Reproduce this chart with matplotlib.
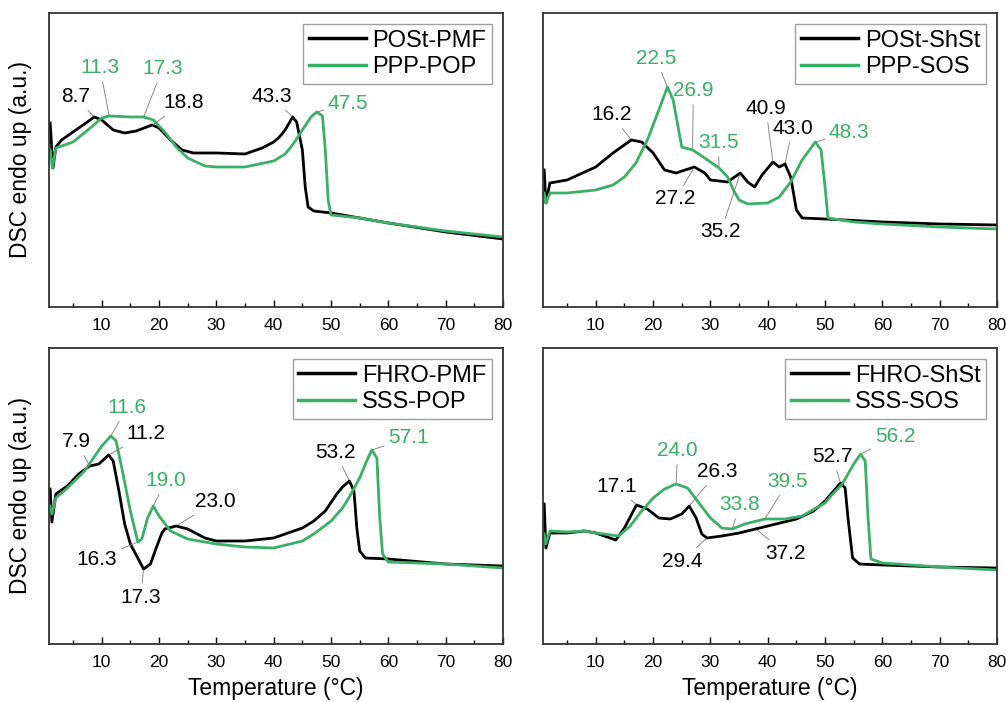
import numpy as np
import matplotlib
matplotlib.use('Agg')
import matplotlib.pyplot as plt

# DSC melting curves (temperature in C, signal in a.u.)
plt.rcParams['font.family'] = ['Liberation Sans', 'DejaVu Sans']

green = '#3aaf66'

# top left: POSt-PMF / PPP-POP
tl_black_t = [1.0, 1.5, 2, 3, 5, 7, 8.7, 10, 12, 14, 16, 18.8, 20, 22, 24, 26, 30, 35, 38, 40, 41, 42, 43.3, 44, 45, 45.5, 46, 47, 50, 60, 70, 80]
tl_black_y = [184, 139, 160, 167, 175, 183, 190, 187, 177, 174, 176, 182, 179, 167, 157, 154, 154, 153, 159, 165, 170, 177, 190, 185, 157, 120, 100, 96, 94, 84, 75, 68]
tl_green_t = [1.0, 1.4, 2, 5, 8, 10, 11.3, 15, 17.3, 19, 21, 23, 25, 28, 30, 35, 40, 42, 43, 44, 45, 46.5, 47.5, 48.5, 49, 49.5, 50, 55, 60, 70, 80]
tl_green_y = [157, 139, 159, 165, 179, 189, 191, 190, 190, 187, 175, 160, 149, 141, 140, 140, 146, 153, 160, 168, 177, 190, 195, 191, 157, 107, 92, 89, 84, 76, 70]

# top right: POSt-ShSt / PPP-SOS
tr_black_t = [1, 1.3, 2, 5, 10, 13, 16.2, 18, 20, 22, 24, 27.2, 29, 30, 33, 35.2, 36.5, 37.7, 39, 40.9, 42, 43, 44, 45, 46, 50, 60, 70, 80]
tr_black_y = [137, 104, 124, 127, 140, 154, 167, 165, 154, 137, 134, 140, 134, 127, 125, 134, 125, 120, 132, 145, 140, 143, 130, 97, 89, 88, 85, 83, 82]
tr_green_t = [1, 1.3, 2, 5, 10, 13, 15, 17, 19, 21, 22.5, 23.5, 25, 26.9, 29, 31.5, 33, 34, 35, 36.5, 40, 42, 44, 46, 48.3, 49.3, 50, 50.5, 55, 60, 70, 80]
tr_green_y = [114, 104, 114, 114, 117, 122, 130, 144, 167, 197, 220, 207, 160, 157, 149, 139, 130, 117, 107, 103, 104, 110, 125, 147, 165, 157, 120, 89, 85, 83, 80, 78]

# bottom left: FHRO-PMF / SSS-POP
bl_black_t = [1, 1.3, 2, 4, 6, 7.9, 9.5, 11.2, 12, 13, 14, 15, 17.3, 18.5, 19.5, 20.5, 21, 23, 25, 28, 30, 35, 40, 45, 47, 49, 51, 52, 53.2, 54, 54.5, 55, 56, 60, 70, 80]
bl_black_y = [155, 122, 150, 158, 170, 178, 180, 189, 183, 153, 120, 100, 75, 80, 96, 111, 115, 118, 115, 106, 103, 103, 106, 116, 123, 133, 150, 157, 163, 153, 116, 93, 86, 85, 80, 78]
bl_green_t = [1, 1.3, 2, 4, 7, 10, 11.6, 12.5, 13.5, 15, 16.3, 17, 18, 19, 20, 22, 25, 30, 35, 40, 45, 47, 50, 52, 53, 55, 56, 57.1, 58, 58.5, 59, 60, 70, 80]
bl_green_y = [138, 130, 146, 156, 173, 198, 208, 203, 176, 133, 102, 105, 126, 138, 128, 113, 105, 100, 97, 96, 103, 110, 123, 136, 145, 166, 180, 194, 186, 126, 90, 82, 80, 76]

# bottom right: FHRO-ShSt / SSS-SOS
br_black_t = [1, 1.3, 2, 5, 8, 10, 13.5, 15, 17.1, 19, 21, 23, 25, 26.3, 27.5, 28.5, 29.4, 32, 35, 40, 45, 48, 50, 52.7, 53.5, 54, 54.8, 56, 60, 70, 80]
br_black_y = [140, 96, 111, 111, 113, 111, 104, 116, 139, 135, 126, 125, 130, 138, 126, 110, 106, 108, 111, 118, 125, 133, 143, 161, 156, 126, 86, 80, 79, 77, 76]
br_green_t = [1, 1.3, 2, 5, 8, 10, 14, 16, 18, 20, 22, 24, 26, 28, 30, 32, 33.8, 36, 39.5, 43, 46, 50, 51, 53, 54, 55, 56.2, 57, 57.5, 58, 60, 70, 80]
br_green_y = [110, 100, 113, 112, 113, 111, 108, 118, 133, 146, 155, 160, 156, 141, 126, 116, 115, 120, 125, 125, 128, 141, 148, 160, 170, 180, 190, 183, 126, 85, 81, 77, 74]

# peak labels: (text, colour, peak x, peak y, text x, text y)
tl_labels = [("8.7", 'k', 8.7, 190, 5.4, 210), ("11.3", green, 11.3, 191, 9.7, 239),
             ("17.3", green, 17.3, 190, 20.6, 238), ("18.8", 'k', 18.8, 182, 24.3, 204),
             ("43.3", 'k', 43.3, 190, 39.7, 210), ("47.5", green, 47.5, 195, 53.0, 203)]
tr_labels = [("22.5", green, 22.5, 220, 20.5, 248), ("26.9", green, 26.9, 157, 27.0, 216),
             ("31.5", green, 31.5, 139, 31.4, 164), ("16.2", 'k', 16.2, 167, 12.8, 192),
             ("27.2", 'k', 27.2, 140, 23.9, 108), ("35.2", 'k', 35.2, 134, 31.8, 75),
             ("40.9", 'k', 40.9, 145, 39.7, 198), ("43.0", 'k', 43.0, 143, 44.3, 178),
             ("48.3", green, 48.3, 165, 54.2, 174)]
bl_labels = [("7.9", 'k', 7.9, 178, 5.6, 202), ("11.6", green, 11.6, 208, 14.4, 236),
             ("11.2", 'k', 11.2, 189, 17.7, 210), ("16.3", 'k', 16.3, 102, 9.2, 85),
             ("17.3", 'k', 17.3, 75, 16.8, 47), ("19.0", green, 19.0, 138, 21.2, 163),
             ("23.0", 'k', 23.0, 118, 29.8, 142), ("53.2", 'k', 53.2, 163, 50.8, 191),
             ("57.1", green, 57.1, 194, 63.5, 206)]
br_labels = [("17.1", 'k', 17.1, 139, 13.7, 157), ("24.0", green, 24.0, 160, 24.3, 193),
             ("26.3", 'k', 26.3, 138, 31.2, 172), ("29.4", 'k', 29.4, 106, 25.0, 83),
             ("33.8", green, 33.8, 115, 35.1, 139), ("39.5", green, 39.5, 125, 43.5, 162),
             ("37.2", 'k', 37.9, 115, 43.1, 91), ("52.7", 'k', 52.7, 161, 51.3, 187),
             ("56.2", green, 56.2, 190, 62.2, 207)]

panels = [
    ([0.0487, 0.5627, 0.4513, 0.4188], 294, tl_black_t, tl_black_y, tl_green_t, tl_green_y, "POSt-PMF", "PPP-POP", tl_labels),
    ([0.5398, 0.5627, 0.4513, 0.4188], 294, tr_black_t, tr_black_y, tr_green_t, tr_green_y, "POSt-ShSt", "PPP-SOS", tr_labels),
    ([0.0487, 0.0826, 0.4513, 0.4217], 296, bl_black_t, bl_black_y, bl_green_t, bl_green_y, "FHRO-PMF", "SSS-POP", bl_labels),
    ([0.5398, 0.0826, 0.4513, 0.4217], 296, br_black_t, br_black_y, br_green_t, br_green_y, "FHRO-ShSt", "SSS-SOS", br_labels),
]

fig = plt.figure(figsize=(10.06, 7.02), dpi=100)
for i, (rect, ytop, bt, by, gt, gy, bname, gname, labels) in enumerate(panels):
    ax = fig.add_axes(rect)
    ax.plot(bt, by, color='k', lw=2, label=bname)
    ax.plot(gt, gy, color=green, lw=2, label=gname)
    ax.set_xlim(0.8, 80)
    ax.set_ylim(0, ytop)
    ax.set_yticks([])
    ax.set_xticks(np.arange(10, 81, 10))
    ax.set_xticks(np.arange(5, 80, 10), minor=True)
    ax.tick_params(axis='x', which='major', direction='in', length=5, width=1, labelsize=12.5, pad=8)
    ax.tick_params(axis='x', which='minor', direction='in', length=3, width=1)
    for s in ax.spines.values():
        s.set_color('#333333')
        s.set_linewidth(1.3)
    for txt, c, px, py, tx, ty in labels:
        ax.annotate(txt, xy=(px, py), xytext=(tx, ty), color=c, fontsize=15,
                    ha='center', va='center',
                    arrowprops=dict(arrowstyle='-', color='#777777', lw=0.6,
                                    shrinkA=1, shrinkB=1))
    leg = ax.legend(loc='upper right', fontsize=17, frameon=True, fancybox=False,
                    handlelength=2.4, handletextpad=0.3, borderpad=0.25,
                    labelspacing=0.2, borderaxespad=0.45)
    leg.get_frame().set_edgecolor('#888888')
    leg.get_frame().set_linewidth(1)
    for line in leg.get_lines():
        line.set_linewidth(2.5)
    if i % 2 == 0:
        ax.set_ylabel("DSC endo up (a.u.)", fontsize=16.5, labelpad=12)
    if i >= 2:
        ax.set_xlabel("Temperature (°C)", fontsize=16.5, labelpad=5)

fig.savefig("out.png", dpi=100)
